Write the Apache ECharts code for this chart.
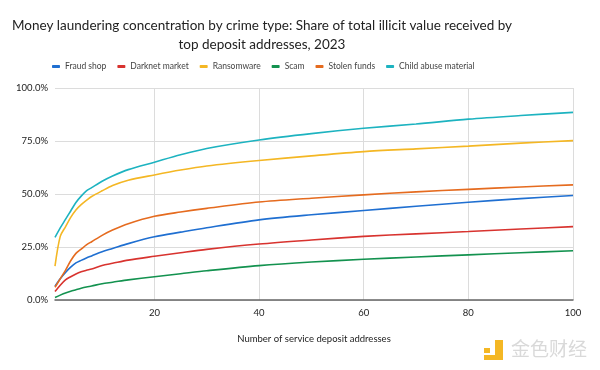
<!DOCTYPE html>
<html>
<head>
<meta charset="utf-8">
<script src="https://cdn.jsdelivr.net/npm/echarts@6/dist/echarts.min.js"></script>
<style>html,body{margin:0;padding:0;background:#fff}#c{width:600px;height:370px}</style>
</head>
<body>
<div id="c"></div>
<script>
const xs = [1,2,3,4,5,6,7,8,10,12,15,20,25,30,40,50,60,70,80,90,100];
const fraudShop = [6.5,10,13,15.5,17.5,18.7,19.8,20.8,22.8,24.3,26.6,29.8,32,34.1,37.8,40.2,42.2,44.2,46.1,47.8,49.3];
const darknetMarket = [4,7,9.5,11,12.3,13.3,14,14.6,16.3,17.3,18.8,20.6,22.3,23.9,26.4,28.3,30,31.2,32.3,33.5,34.6];
const ransomware = [16,30,34.5,39,42.5,45,47,48.8,51.5,54,56.5,59,61.3,63.2,65.8,68,70,71.3,72.6,74,75.2];
const scam = [1.2,2.3,3.3,4.1,4.8,5.5,6.1,6.6,7.7,8.4,9.5,11,12.4,13.8,16.2,17.9,19.2,20.3,21.3,22.3,23.2];
const stolenFunds = [6,10,14,18.5,22,24,26,27.5,30.5,33,36,39.5,41.5,43.2,46.2,48,49.6,51,52.2,53.3,54.3];
const childAbuse = [29.5,34,38,42,46,49,51.5,53,56,58.5,61.5,65,68.5,71.5,75.5,78.5,81,83,85.3,87,88.5];
const xTicks = [20,40,60,80,100];
const seriesNames = ['Fraud shop','Darknet market','Ransomware','Scam','Stolen funds','Child abuse material'];
const seriesData = [fraudShop, darknetMarket, ransomware, scam, stolenFunds, childAbuse];
const colors = ['#1f6fd1','#d8332f','#f4b724','#13924f','#e56b1f','#1db3c0'];

const font = 'Lato, "Noto Sans", sans-serif';
const chart = echarts.init(document.getElementById('c'));
chart.setOption({
  backgroundColor: '#fff',
  color: colors,
  title: {
    text: 'Money laundering concentration by crime type: Share of total illicit value received by\ntop deposit addresses, 2023',
    left: 257, top: 11, textAlign: 'center',
    textStyle: {fontFamily: font, fontSize: 13.5, fontWeight: 'normal', color: '#222', lineHeight: 19}
  },
  legend: {
    top: 57, left: 47, itemWidth: 8, itemHeight: 3, itemGap: 11,
    icon: 'roundRect',
    textStyle: {fontFamily: font, fontSize: 8.5, color: '#444'},
    data: seriesNames
  },
  grid: {left: 55, right: 27, top: 88, bottom: 70, containLabel: false},
  xAxis: {
    type: 'value', min: 1, max: 100,
    name: 'Number of service deposit addresses', nameLocation: 'middle', nameGap: 34,
    nameTextStyle: {fontFamily: font, fontSize: 9.5, color: '#222'},
    axisLine: {show: true, lineStyle: {color: '#666', width: 1.5}},
    axisTick: {show: false, customValues: xTicks},
    axisLabel: {customValues: xTicks, fontFamily: font, fontSize: 9.5, color: '#222', margin: 8},
    splitLine: {show: true, lineStyle: {color: '#dcdcdc'}}
  },
  yAxis: {
    type: 'value', min: 0, max: 100, interval: 25,
    axisLine: {show: false}, axisTick: {show: false},
    axisLabel: {formatter: v => v.toFixed(1) + '%', fontFamily: font, fontSize: 9.5, color: '#222', margin: 7},
    splitLine: {show: true, lineStyle: {color: '#dcdcdc'}}
  },
  series: seriesNames.map((n, i) => ({
    name: n, type: 'line', showSymbol: false, smooth: 0.3,
    lineStyle: {width: 1.6},
    data: xs.map((x, j) => [x, seriesData[i][j]])
  })),
  graphic: [
    {type: 'rect', shape: {x: 484, y: 348, width: 6, height: 5}, style: {fill: '#f4b724'}},
    {type: 'rect', shape: {x: 495, y: 340, width: 8, height: 20}, style: {fill: '#f4b724'}},
    {type: 'rect', shape: {x: 484, y: 355, width: 19, height: 5}, style: {fill: '#f4b724'}},
    {type: 'text', style: {x: 511, y: 339, text: '金色财经', font: '19px "Noto Sans CJK SC"', fill: '#d9d9d9'}}
  ]
});
</script>
</body>
</html>
